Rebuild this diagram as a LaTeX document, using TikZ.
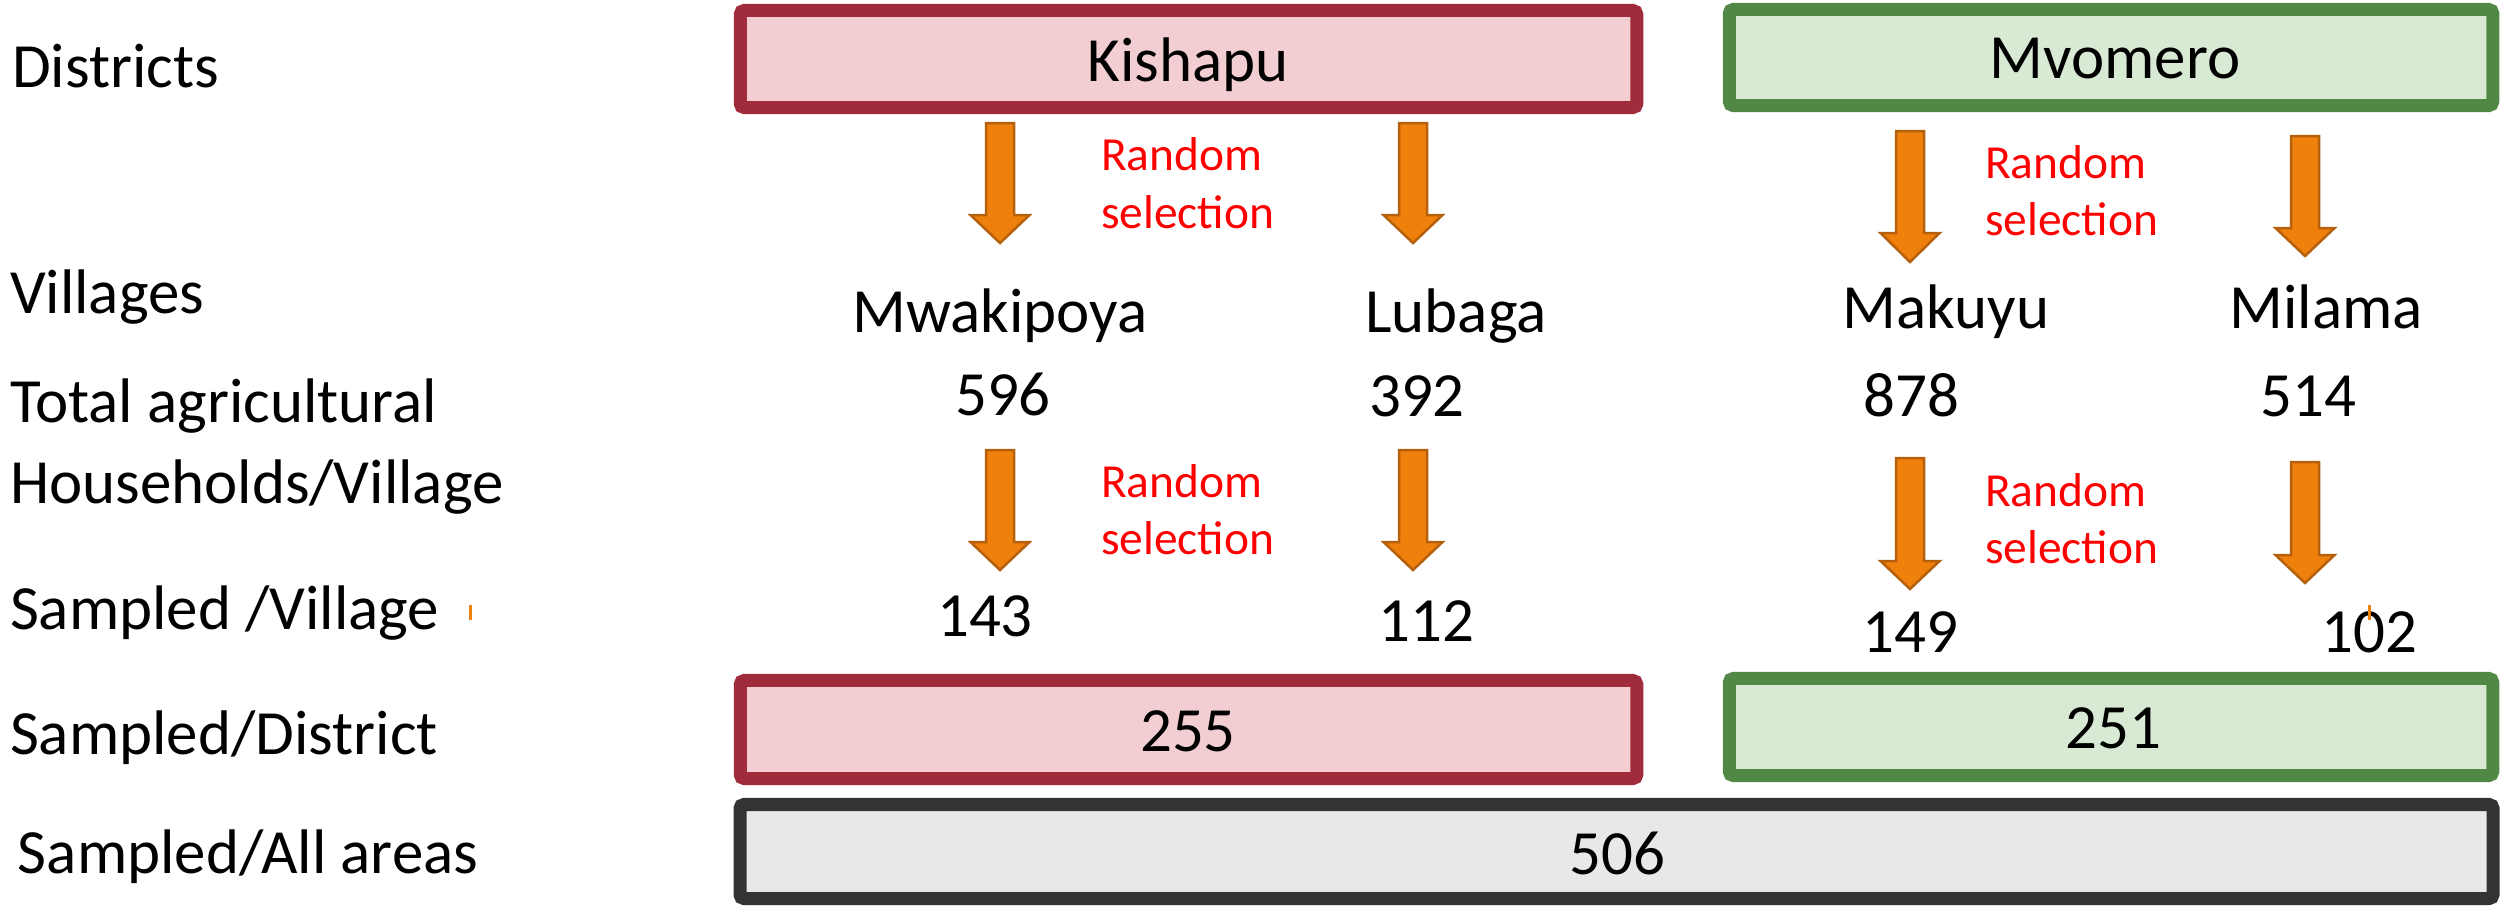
\documentclass[tikz,border=0pt]{standalone}
\usepackage{fontspec}
\setmainfont{Carlito}
\definecolor{kred}{HTML}{A02B3A}
\definecolor{kfill}{HTML}{F2CED3}
\definecolor{mgreen}{HTML}{528845}
\definecolor{mfill}{HTML}{D9EAD4}
\definecolor{gborder}{HTML}{333333}
\definecolor{gfill}{HTML}{E8E8E8}
\definecolor{aorange}{HTML}{F0800C}
\definecolor{aedge}{HTML}{B5600C}
% block arrow: x, top, head start, tip
\newcommand\blockarrow[4]{%
  \draw[oarrow] (#1-14,#2) -- (#1+14,#2) -- (#1+14,#3) -- (#1+29.5,#3) -- (#1,#4)
     -- (#1-29.5,#3) -- (#1-14,#3) -- cycle;}
\begin{document}
\begin{tikzpicture}[x=0.01cm,y=-0.01cm,
  every node/.style={inner sep=0pt,outer sep=0pt},
  lab/.style={font=\fontsize{17.9pt}{21pt}\selectfont,anchor=base west},
  num/.style={font=\fontsize{17.9pt}{21pt}\selectfont,anchor=base},
  rsel/.style={font=\fontsize{13.5pt}{16pt}\selectfont,text=red,anchor=base west},
  boxbase/.style={line width=0.13cm,rounded corners=0.04cm,rectangle},
  kbox/.style={boxbase,draw=kred,fill=kfill},
  mbox/.style={boxbase,draw=mgreen,fill=mfill},
  gbox/.style={boxbase,draw=gborder,fill=gfill},
  oarrow/.style={fill=aorange,draw=aedge,line width=0.025cm,line join=miter},
  tick/.style={draw=aorange,line width=0.03cm}]
\useasboundingbox (0,0) rectangle (2501,908);

% boxes
\node[kbox,minimum width=8.96cm,minimum height=0.97cm] (kis) at (1188.5,59) {};
\node[mbox,minimum width=7.63cm,minimum height=0.96cm] (mvo) at (2111,57.5) {};
\node[kbox,minimum width=8.96cm,minimum height=0.98cm] (kdist) at (1188.5,729.5) {};
\node[mbox,minimum width=7.63cm,minimum height=0.97cm] (mdist) at (2111,727) {};
\node[gbox,minimum width=17.52cm,minimum height=0.94cm] (all) at (1616.5,851.5) {};

\node[num] (kisT) at (1188,81) {Kishapu};
\node[num] (mvoT) at (2115,78) {Mvomero};
\node[num] (kdistT) at (1188,751) {255};
\node[num] (mdistT) at (2113,748) {251};
\node[num] (allT) at (1617,874) {506};

% left labels
\node[lab] (lDist) at (12,87) {Districts};
\node[lab] (lVill) at (10,313) {Villages};
\node[lab] (lTot) at (10,422) {Total agricultural};
\node[lab] (lHh) at (10,503) {Households/Village};
\node[lab] (lSv) at (10,629) {Sampled /Village};
\node[lab] (lSd) at (10,754) {Sampled/District};
\node[lab] (lSa) at (18,873) {Sampled/All areas};

% villages
\node[num] (mwa) at (1000,332) {Mwakipoya};
\node[num] (lub) at (1456,332) {Lubaga};
\node[num] (mak) at (1946,328) {Makuyu};
\node[num] (mil) at (2326,328) {Milama};

% totals
\node[num] (n596) at (1003,415) {596};
\node[num] (n392) at (1417,416) {392};
\node[num] (n878) at (1911,416) {878};
\node[num] (n514) at (2308,416) {514};

% sampled per village
\node[num] (n143) at (985,636) {143};
\node[num] (n112) at (1426,641) {112};
\node[num] (n149) at (1910,652) {149};
\node[num] (n102) at (2369,652) {102};

% random selection labels
\node[rsel] (r1a) at (1101,170) {Random};
\node[rsel] (r1b) at (1101,228) {selection};
\node[rsel] (r2a) at (1985,178) {Random};
\node[rsel] (r2b) at (1985,235) {selection};
\node[rsel] (r3a) at (1101,497) {Random};
\node[rsel] (r3b) at (1101,554) {selection};
\node[rsel] (r4a) at (1985,506) {Random};
\node[rsel] (r4b) at (1985,563) {selection};

% block arrows
\blockarrow{1000}{123}{215}{243}
\blockarrow{1413}{123}{215}{243}
\blockarrow{1910}{131}{233}{262}
\blockarrow{2305}{136}{228}{256}
\blockarrow{1000}{450}{542}{570}
\blockarrow{1413}{450}{542}{570}
\blockarrow{1910}{458}{561}{589}
\blockarrow{2305}{462}{555}{583}

% stray orange marks
\coordinate (t1a) at (470,605); \coordinate (t1b) at (470,620);
\coordinate (t2a) at (2369,605); \coordinate (t2b) at (2369,620);
\draw[tick] (t1a) -- (t1b);
\draw[tick] (t2a) -- (t2b);
\end{tikzpicture}
\end{document}
